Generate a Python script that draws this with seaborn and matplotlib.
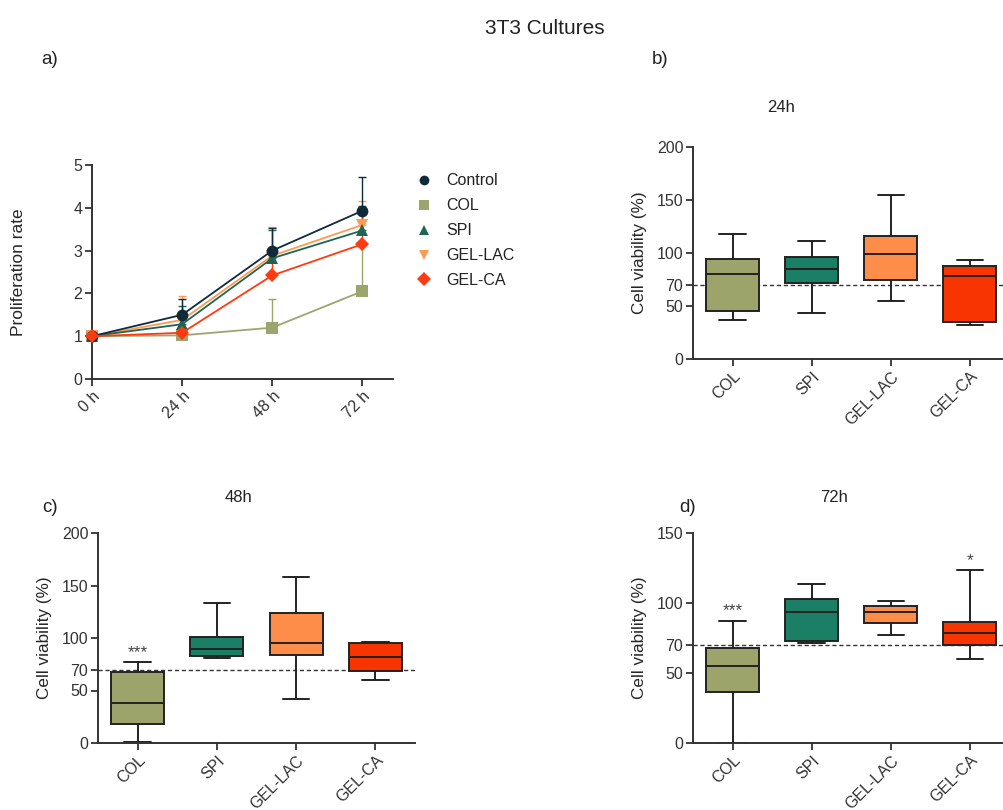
import numpy as np
import pandas as pd
import matplotlib
matplotlib.use("Agg")
import matplotlib.pyplot as plt
import seaborn as sns
from matplotlib.lines import Line2D

# ---------------- data ----------------
time_labels = ["0 h", "24 h", "48 h", "72 h"]
line_groups = ["Control", "COL", "SPI", "GEL-LAC", "GEL-CA"]

control_mean = [1.00, 1.50, 3.00, 3.93]
control_top = [1.00, 1.88, 3.52, 4.72]
col_mean = [1.00, 1.02, 1.20, 2.05]
col_top = [1.00, 1.02, 1.88, 3.10]
spi_mean = [1.00, 1.28, 2.82, 3.47]
spi_top = [1.00, 1.70, 3.48, 4.05]
gellac_mean = [1.00, 1.38, 2.88, 3.60]
gellac_top = [1.00, 1.95, 3.55, 4.15]
gelca_mean = [1.00, 1.08, 2.42, 3.15]
gelca_top = [1.00, 1.55, 2.95, 3.90]

materials = ["COL", "SPI", "GEL-LAC", "GEL-CA"]
# five-number summaries: [min, Q1, median, Q3, max]
via24_col = [37.2, 45.7, 79.8, 94.6, 117.7]
via24_spi = [43.2, 71.9, 84.5, 96.2, 111.7]
via24_gellac = [54.9, 74.1, 98.7, 116.0, 154.6]
via24_gelca = [32.2, 35.0, 78.2, 88.0, 93.7]

via48_col = [1.3, 18.4, 37.7, 67.2, 76.7]
via48_spi = [80.5, 82.7, 90.0, 101.4, 133.8]
via48_gellac = [41.5, 83.4, 94.8, 124.2, 157.8]
via48_gelca = [59.6, 68.1, 81.8, 95.1, 96.4]

via72_col = [0.0, 36.6, 54.9, 68.2, 86.8]
via72_spi = [71.1, 72.7, 93.9, 103.2, 113.6]
via72_gellac = [77.0, 85.8, 93.9, 97.7, 101.7]
via72_gelca = [59.7, 70.1, 78.9, 86.3, 123.8]

threshold = 70
ticks_200 = [0, 50, 70, 100, 150, 200]
ticks_150 = [0, 50, 70, 100, 150]

# ---------------- style ----------------
sns.set_theme(style="ticks")
plt.rcParams["font.family"] = ["Liberation Sans", "DejaVu Sans"]
plt.rcParams["axes.linewidth"] = 1.4
plt.rcParams["axes.edgecolor"] = "#333333"
plt.rcParams["xtick.color"] = "#333333"
plt.rcParams["ytick.color"] = "#333333"
plt.rcParams["text.color"] = "#222222"

line_colors = {"Control": "#0f2b3a", "COL": "#9da56e", "SPI": "#1f6652",
               "GEL-LAC": "#ff9a55", "GEL-CA": "#ff3a10"}
line_markers = {"Control": "o", "COL": "s", "SPI": "^", "GEL-LAC": "v", "GEL-CA": "D"}
box_colors = {"COL": "#9ca46b", "SPI": "#1b7f65", "GEL-LAC": "#ff8d4a", "GEL-CA": "#f83500"}

W, H = 1004, 810
fig = plt.figure(figsize=(W / 100, H / 100), dpi=100)


def rect(l, t, r, b):
    return [l / W, 1 - b / H, (r - l) / W, (b - t) / H]


def style_axis(ax):
    sns.despine(ax=ax)
    ax.tick_params(axis="both", direction="out", length=5, width=1.3, labelsize=11.5, pad=2)


# ---------------- panel a ----------------
axa = fig.add_axes(rect(92, 165, 393, 379))
means = {"Control": control_mean, "COL": col_mean, "SPI": spi_mean,
         "GEL-LAC": gellac_mean, "GEL-CA": gelca_mean}
tops = {"Control": control_top, "COL": col_top, "SPI": spi_top,
        "GEL-LAC": gellac_top, "GEL-CA": gelca_top}
rows = []
for g in line_groups:
    for i, v in enumerate(means[g]):
        rows.append({"t": i, "value": v, "group": g})
dfa = pd.DataFrame(rows)

draw_order = ["COL", "GEL-LAC", "SPI", "Control", "GEL-CA"]
for g in draw_order:
    x = np.arange(len(time_labels))
    m = np.array(means[g])
    up = np.array(tops[g]) - m
    axa.errorbar(x, m, yerr=[np.zeros_like(up), up], fmt="none",
                 ecolor=line_colors[g], elinewidth=1.0, capsize=3, capthick=1.0,
                 zorder=2, clip_on=False)
for g in draw_order:
    sub = dfa[dfa["group"] == g]
    sns.lineplot(data=sub, x="t", y="value", color=line_colors[g],
                 marker=line_markers[g], markersize=8.5 if g != "GEL-CA" else 7.5,
                 markeredgewidth=0, linewidth=1.3, ax=axa, legend=False,
                 zorder=3, clip_on=False)

axa.set_xlim(0, 3.34)
axa.set_ylim(0, 5)
axa.set_yticks([0, 1, 2, 3, 4, 5])
axa.set_xticks(range(len(time_labels)))
axa.set_xticklabels(time_labels, rotation=45, ha="right", rotation_mode="anchor")
axa.set_xlabel("")
axa.set_ylabel("Proliferation rate", fontsize=12.5, labelpad=34)
style_axis(axa)

handles = [Line2D([], [], linestyle="none", marker=line_markers[g], color=line_colors[g],
                  markersize=7, markeredgewidth=0, label=g) for g in line_groups]
fig.legend(handles=handles, loc="upper left", bbox_to_anchor=(410 / W, 1 - 167 / H),
           frameon=False, fontsize=11.5, handlelength=1.0, handletextpad=0.9,
           labelspacing=0.62, borderaxespad=0)


# ---------------- box panels ----------------
def box_panel(r, data_lists, ylim, yticks, xmax, stars=None):
    ax = fig.add_axes(r)
    rows = []
    for mat, vals in zip(materials, data_lists):
        for v in vals:
            rows.append({"material": mat, "value": v})
    df = pd.DataFrame(rows)
    ax.axhline(threshold, color="#333333", linestyle=(0, (3, 2)), linewidth=1.0, zorder=1)
    sns.boxplot(data=df, x="material", y="value", hue="material", order=materials,
                hue_order=materials, palette=box_colors, whis=(0, 100), width=0.67,
                linecolor="#222222", linewidth=1.4, saturation=1, legend=False,
                showfliers=False, ax=ax, zorder=2)
    ax.set_ylim(*ylim)
    ax.set_xlim(-0.5, xmax)
    ax.set_yticks(yticks)
    ax.set_xticks(range(len(materials)))
    ax.set_xticklabels(materials, rotation=45, ha="right", rotation_mode="anchor")
    ax.set_xlabel("")
    ax.set_ylabel("Cell viability (%)", fontsize=12.3, labelpad=7)
    style_axis(ax)
    if stars:
        for idx, y, s in stars:
            ax.text(idx, y, s, ha="center", va="center", fontsize=12.5, color="#444444")
    return ax


axb = box_panel(rect(693, 147, 1004, 359),
                [via24_col, via24_spi, via24_gellac, via24_gelca],
                (0, 200), ticks_200, 3.43)
axc = box_panel(rect(98, 533, 415, 743),
                [via48_col, via48_spi, via48_gellac, via48_gelca],
                (0, 200), ticks_200, 3.5, stars=[(0, 86, "***")])
axd = box_panel(rect(693, 533, 1004, 743),
                [via72_col, via72_spi, via72_gellac, via72_gelca],
                (0, 150), ticks_150, 3.43, stars=[(0, 94.5, "***"), (3, 130.5, "*")])

# ---------------- texts ----------------
def ftext(x, y, s, size, **kw):
    fig.text(x / W, 1 - y / H, s, fontsize=size, ha="center", va="center", **kw)

ftext(545, 28, "3T3 Cultures", 15)
ftext(50, 60, "a)", 13.5)
ftext(660, 60, "b)", 13.5)
ftext(781, 108, "24h", 12)
ftext(50, 507, "c)", 13.5)
ftext(239, 497, "48h", 12)
ftext(688, 508, "d)", 13.5)
ftext(834, 498, "72h", 12)

fig.savefig("out.png", dpi=100)
